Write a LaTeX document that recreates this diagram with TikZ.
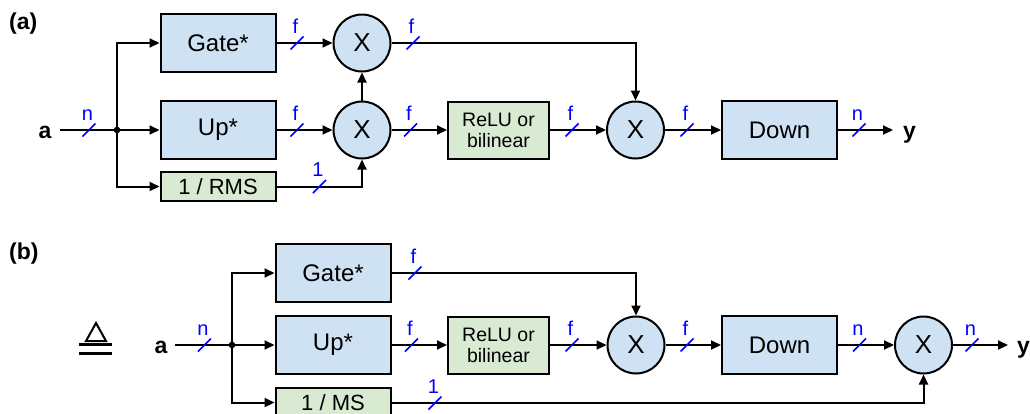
\documentclass[tikz,border=0pt]{standalone}
\usepackage{fontspec}
\setmainfont{Liberation Sans}
\usetikzlibrary{arrows.meta}
\definecolor{boxblue}{RGB}{207,226,243}
\definecolor{boxgreen}{RGB}{217,234,211}
\definecolor{busblue}{RGB}{0,0,255}
\begin{document}
\begin{tikzpicture}[x=1pt,y=-1pt,
  blk/.style={draw=black,line width=2pt,fill=boxblue,minimum width=115pt,minimum height=58pt,inner sep=0pt,font=\fontsize{24}{28}\selectfont},
  gblk/.style={blk,fill=boxgreen},
  smallblk/.style={gblk,minimum height=29pt,font=\fontsize{22}{26}\selectfont},
  actblk/.style={gblk,minimum width=101pt,minimum height=57pt,align=center,font=\fontsize{19.5}{21}\selectfont},
  mul/.style={circle,draw=black,line width=2pt,fill=boxblue,minimum size=57pt,inner sep=0pt,font=\fontsize{26}{30}\selectfont},
  wire/.style={line width=2pt},
  arr/.style={wire,-{Triangle[length=10pt,width=9pt]}},
  pics/bus/.style={code={\draw[busblue,line width=1.7pt] (-6.5,6.5)--(6.5,-6.5); \node[busblue,anchor=base,inner sep=0pt,font=\fontsize{20}{22}\selectfont] at (-1.5,-10) {#1};}},
  io/.style={font=\bfseries\fontsize{23}{27}\selectfont,inner sep=0pt},
]
\useasboundingbox (0,0) rectangle (1030,413);

% ---------------- (a) ----------------
\node[io,anchor=west] (la) at (9,24) {(a)};
\node[io,anchor=base] (ina) at (45,138) {a};
\coordinate (ia) at (60,130);
\coordinate (sa) at (117,130);
\node[blk] (gatea) at (218,43) {Gate*};
\node[blk] (upa) at (218,130) {Up*};
\node[smallblk] (rmsa) at (218,186.5) {1 / RMS};
\node[mul] (m1a) at (362,43) {X};
\node[mul] (m2a) at (362,130) {X};
\node[actblk] (relua) at (498.5,130) {ReLU or\\bilinear};
\node[mul] (m3a) at (635.5,130) {X};
\node[blk] (downa) at (779.5,130) {Down};
\coordinate (ya) at (893,130);
\node[io,anchor=base west] (outa) at (903,138) {y};

\draw[wire] (ia) -- (sa);
\fill (sa) circle (3.3pt);
\draw[arr] (sa) |- (gatea);
\draw[arr] (sa) -- (upa);
\draw[arr] (sa) |- (rmsa);
\draw[arr] (gatea) -- (m1a);
\draw[arr] (upa) -- (m2a);
\draw[arr] (m2a) -- (m1a);
\draw[arr] (rmsa) -| (m2a);
\draw[arr] (m1a) -| (m3a);
\draw[arr] (m2a) -- (relua);
\draw[arr] (relua) -- (m3a);
\draw[arr] (m3a) -- (downa);
\draw[arr] (downa) -- (ya);

\pic at (89,130) {bus=n};
\pic at (297,43) {bus=f};
\pic at (297,130) {bus=f};
\pic at (319.5,186.5) {bus=1};
\pic at (413,43) {bus=f};
\pic at (410.5,130) {bus=f};
\pic at (572,130) {bus=f};
\pic at (687,130) {bus=f};
\pic at (859,130) {bus=n};

% ---------------- (b) ----------------
\node[io,anchor=west] (lb) at (9,254) {(b)};
% "defined as" symbol
\draw[line width=2pt,line join=miter] (86,341) -- (96,323) -- (106,341) -- cycle;
\draw[line width=2.2pt] (79,344.5) -- (112,344.5);
\draw[line width=2.2pt] (79,353.5) -- (112,353.5);

\node[io,anchor=base] (inb) at (161,353) {a};
\coordinate (ib) at (175,345);
\coordinate (sb) at (232,345);
\node[blk] (gateb) at (333,273) {Gate*};
\node[blk] (upb) at (333,345) {Up*};
\node[smallblk] (msb) at (333,402.5) {1 / MS};
\node[actblk] (relub) at (498.5,345) {ReLU or\\bilinear};
\node[mul] (m1b) at (636,345) {X};
\node[blk] (downb) at (779.5,345) {Down};
\node[mul] (m2b) at (923.5,345) {X};
\coordinate (yb) at (1008,345);
\node[io,anchor=base west] (outb) at (1017,353) {y};

\draw[wire] (ib) -- (sb);
\fill (sb) circle (3.3pt);
\draw[arr] (sb) |- (gateb);
\draw[arr] (sb) -- (upb);
\draw[arr] (sb) |- (msb);
\draw[arr] (gateb) -| (m1b);
\draw[arr] (upb) -- (relub);
\draw[arr] (relub) -- (m1b);
\draw[arr] (m1b) -- (downb);
\draw[arr] (downb) -- (m2b);
\draw[arr] (msb) -| (m2b);
\draw[arr] (m2b) -- (yb);

\pic at (204.5,345) {bus=n};
\pic at (415,273) {bus=f};
\pic at (411.5,345) {bus=f};
\pic at (435,403) {bus=1};
\pic at (572,345) {bus=f};
\pic at (687,345) {bus=f};
\pic at (859.5,345) {bus=n};
\pic at (972,345) {bus=n};
\end{tikzpicture}
\end{document}
